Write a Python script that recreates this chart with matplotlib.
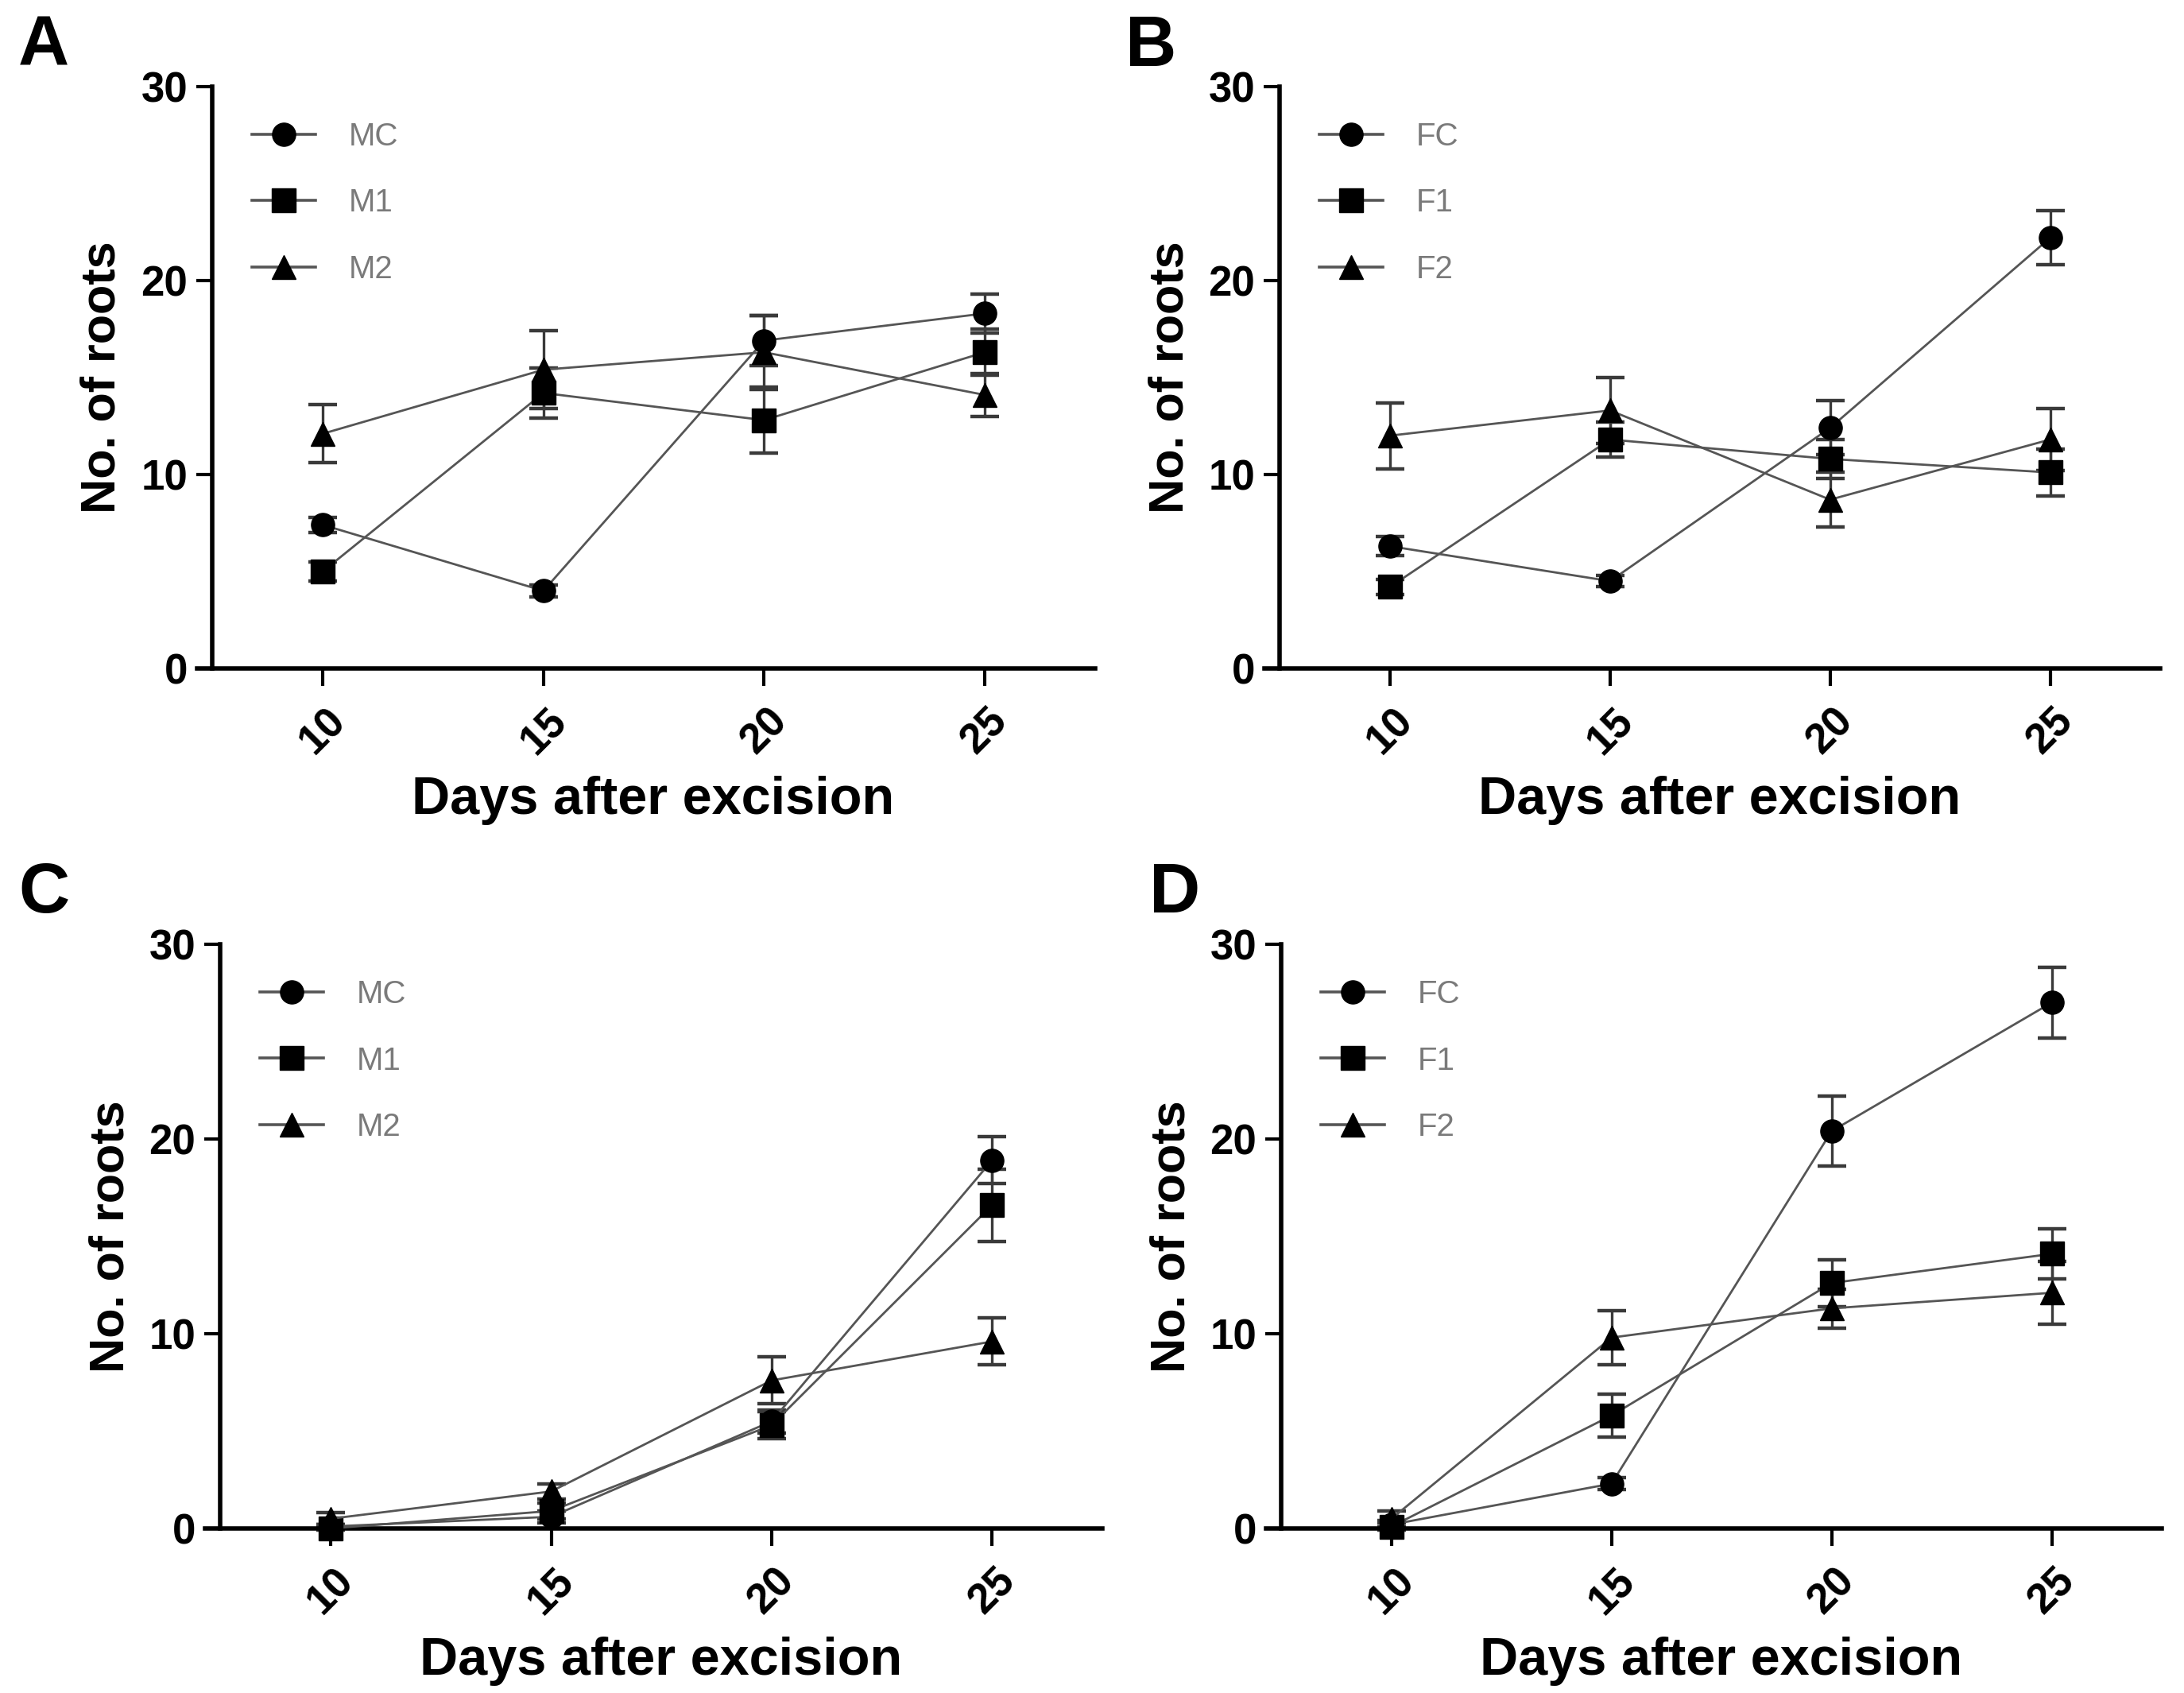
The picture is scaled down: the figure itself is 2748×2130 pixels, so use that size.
import matplotlib
matplotlib.use("Agg")
import matplotlib.pyplot as plt
from matplotlib.lines import Line2D

plt.rcParams['font.family'] = ['Liberation Sans', 'DejaVu Sans']

# days after excision
days = [10, 15, 20, 25]
day_labels = ["10", "15", "20", "25"]

# panel A - male, first experiment
a_names = ["MC", "M1", "M2"]
a_MC = [7.4, 4.0, 16.9, 18.3]
a_MC_err = [0.4, 0.3, 1.3, 1.0]
a_M1 = [5.0, 14.2, 12.8, 16.3]
a_M1_err = [0.5, 1.3, 1.7, 1.2]
a_M2 = [12.1, 15.4, 16.3, 14.1]
a_M2_err = [1.5, 2.0, 1.9, 1.1]

# panel B - female, first experiment
b_names = ["FC", "F1", "F2"]
b_FC = [6.3, 4.5, 12.4, 22.2]
b_FC_err = [0.5, 0.3, 1.4, 1.4]
b_F1 = [4.2, 11.8, 10.8, 10.1]
b_F1_err = [0.4, 0.9, 1.0, 1.2]
b_F2 = [12.0, 13.3, 8.7, 11.8]
b_F2_err = [1.7, 1.7, 1.4, 1.6]

# panel C - male, second experiment
c_names = ["MC", "M1", "M2"]
c_MC = [0.1, 0.6, 5.5, 18.9]
c_MC_err = [0.1, 0.3, 0.6, 1.2]
c_M1 = [0.0, 0.9, 5.3, 16.6]
c_M1_err = [0.1, 0.4, 0.7, 1.85]
c_M2 = [0.5, 1.9, 7.6, 9.6]
c_M2_err = [0.3, 0.4, 1.2, 1.2]

# panel D - female, second experiment
d_names = ["FC", "F1", "F2"]
d_FC = [0.2, 2.3, 20.4, 27.0]
d_FC_err = [0.2, 0.3, 1.8, 1.8]
d_F1 = [0.1, 5.8, 12.6, 14.1]
d_F1_err = [0.2, 1.1, 1.2, 1.3]
d_F2 = [0.5, 9.8, 11.3, 12.1]
d_F2_err = [0.4, 1.4, 1.0, 1.6]

markers = ["o", "s", "^"]
msizes = [21, 21, 22]
line_col = "#555555"

fig = plt.figure(figsize=(27.48, 21.30), dpi=100)

panels = [
    ("A", [0.0902, 0.6052, 0.4112, 0.3437], a_names,
     [(a_MC, a_MC_err), (a_M1, a_M1_err), (a_M2, a_M2_err)], (0.020, 0.972)),
    ("B", [0.5790, 0.6052, 0.4101, 0.3437], b_names,
     [(b_FC, b_FC_err), (b_F1, b_F1_err), (b_F2, b_F2_err)], (0.527, 0.972)),
    ("C", [0.0939, 0.0972, 0.4108, 0.3451], c_names,
     [(c_MC, c_MC_err), (c_M1, c_M1_err), (c_M2, c_M2_err)], (0.020, 0.472)),
    ("D", [0.5797, 0.0972, 0.4101, 0.3451], d_names,
     [(d_FC, d_FC_err), (d_F1, d_F1_err), (d_F2, d_F2_err)], (0.538, 0.472)),
]

for letter, rect, names, series, lpos in panels:
    ax = fig.add_axes(rect)
    ax.patch.set_visible(False)

    handles = []
    for i, (vals, errs) in enumerate(series):
        ax.errorbar(days, vals, yerr=errs, fmt="none", ecolor="#3a3a3a",
                    elinewidth=2.4, capsize=13, capthick=3.2, zorder=2,
                    clip_on=False)
        ax.plot(days, vals, color=line_col, lw=2.0, marker=markers[i],
                ms=msizes[i], mfc="black", mec="black", zorder=3,
                clip_on=False)
        handles.append(Line2D([], [], color=line_col, lw=2.6,
                              marker=markers[i], ms=msizes[i],
                              mfc="black", mec="black"))

    leg = ax.legend(handles, names, loc="upper left",
                    bbox_to_anchor=(0.061, 0.94), frameon=False,
                    fontsize=29, handlelength=1.98, handletextpad=1.05,
                    labelspacing=1.13, borderpad=0, borderaxespad=0)
    for t in leg.get_texts():
        t.set_color("#7a7a7a")

    ax.set_xlim(7.15, 27.5)
    ax.set_ylim(0, 30)
    ax.spines["top"].set_visible(False)
    ax.spines["right"].set_visible(False)
    ax.spines["left"].set_position(("data", 7.5))
    ax.spines["left"].set_linewidth(4)
    ax.spines["bottom"].set_linewidth(4)

    ax.set_yticks([0, 10, 20, 30])
    ax.set_xticks(days)
    ax.set_xticklabels(day_labels, rotation=45, ha="center", va="top")
    ax.tick_params(axis="y", length=14.5, width=3, pad=8, labelsize=38)
    ax.tick_params(axis="x", length=16, width=3, pad=13, labelsize=38)
    for lab in ax.get_xticklabels() + ax.get_yticklabels():
        lab.set_fontweight("bold")

    ax.set_xlabel("Days after excision", fontsize=48, fontweight="bold")
    ax.xaxis.label.set_va("baseline")
    ax.xaxis.set_label_coords(0.508, -0.25)
    ax.set_ylabel("No. of roots", fontsize=44, fontweight="bold")
    ax.yaxis.label.set_va("center")
    ax.yaxis.set_label_coords(-0.105, 0.5)

    fig.text(lpos[0], lpos[1], letter, fontsize=64, fontweight="bold",
             ha="center", va="center")

fig.savefig("out.png", dpi=100)
